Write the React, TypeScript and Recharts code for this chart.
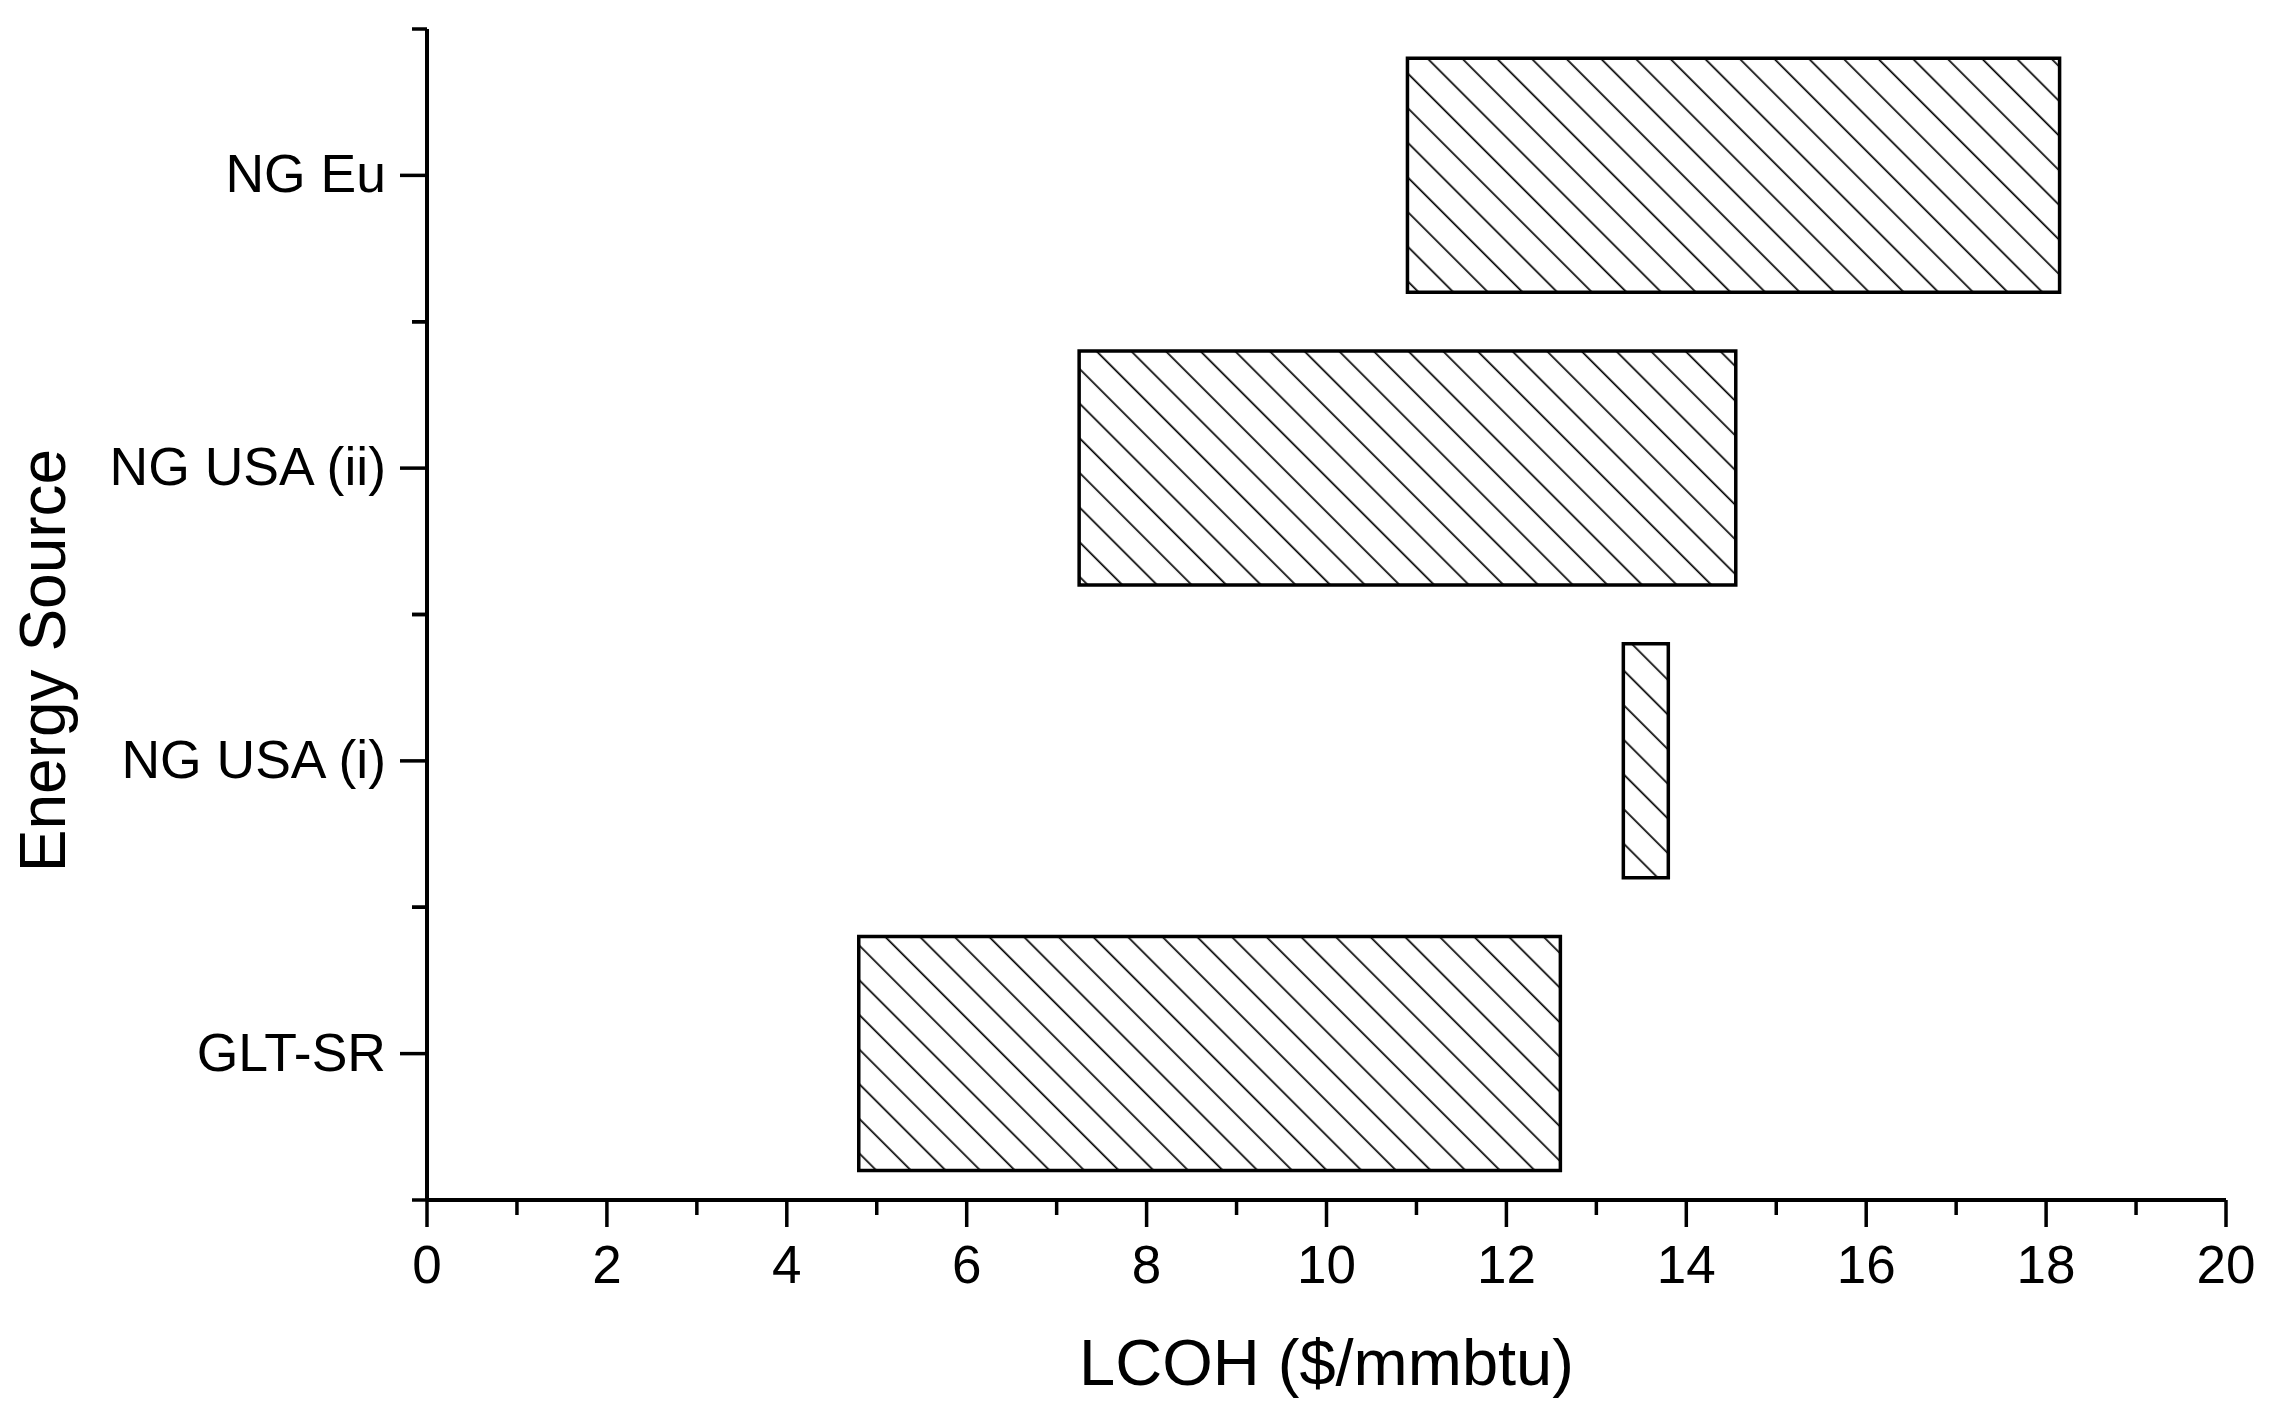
import React from 'react';
import { BarChart, Bar, XAxis, YAxis } from 'recharts';

// Data (top to bottom as drawn)
const categories = ['NG Eu', 'NG USA (ii)', 'NG USA (i)', 'GLT-SR'];
const lowValues = [10.9, 7.25, 13.3, 4.8];
const highValues = [18.15, 14.55, 13.8, 12.6];
const xTicks = [0, 1, 2, 3, 4, 5, 6, 7, 8, 9, 10, 11, 12, 13, 14, 15, 16, 17, 18, 19, 20];

const data = categories.map((c, i) => ({ source: c, range: [lowValues[i], highValues[i]] }));

const FONT = 'Liberation Sans, Arial, Helvetica, sans-serif';

const XTick = (props: any) => {
  const { x, y, payload } = props;
  const v = payload.value;
  const major = v % 2 === 0;
  return (
    <g>
      <line x1={x} y1={y} x2={x} y2={y + (major ? 27 : 15)} stroke="#000" strokeWidth={3.5} />
      {major && (
        <text x={x} y={y + 83} textAnchor="middle" fontSize={53} fontFamily={FONT} fill="#000">
          {v}
        </text>
      )}
    </g>
  );
};

const YTick = (props: any) => {
  const { x, y, payload } = props;
  const off = payload && payload.offset ? payload.offset : 146.4;
  return (
    <g>
      <line x1={x - 27} y1={y} x2={x} y2={y} stroke="#000" strokeWidth={3.5} />
      <line x1={x - 15} y1={y - off} x2={x} y2={y - off} stroke="#000" strokeWidth={3.5} />
      <line x1={x - 15} y1={y + off} x2={x} y2={y + off} stroke="#000" strokeWidth={3.5} />
      <text x={x - 41} y={y + 17} textAnchor="end" fontSize={53.5} fontFamily={FONT} fill="#000">
        {payload.value}
      </text>
    </g>
  );
};

export default function App() {
  return (
    <div style={{ position: 'absolute', left: 0, top: 0, width: 2271, height: 1416, background: '#fff' }}>
      <svg width={0} height={0} style={{ position: 'absolute' }}>
        <defs>
          <pattern id="hatch" patternUnits="userSpaceOnUse" width={24.5} height={24.5} patternTransform="rotate(45)">
            <rect x={0} y={0} width={24.5} height={24.5} fill="#fff" />
            <line x1={0} y1={12} x2={24.5} y2={12} stroke="#000" strokeWidth={1.7} />
          </pattern>
        </defs>
      </svg>
      <BarChart
        width={2271}
        height={1416}
        data={data}
        layout="vertical"
        margin={{ top: 29, right: 45, bottom: 0, left: 0 }}
        barCategoryGap="10%"
      >
        <XAxis
          type="number"
          domain={[0, 20]}
          ticks={xTicks}
          interval={0}
          height={216}
          tickSize={0}
          tickMargin={0}
          tickLine={false}
          axisLine={{ stroke: '#000', strokeWidth: 4 }}
          tick={<XTick />}
          allowDataOverflow
          label={{
            content: (p: any) => {
              const vb = p.viewBox;
              return (
                <text x={vb.x + vb.width / 2} y={vb.y + 185} textAnchor="middle" fontSize={65} fontFamily={FONT} fill="#000">
                  LCOH ($/mmbtu)
                </text>
              );
            },
          }}
        />
        <YAxis
          type="category"
          dataKey="source"
          width={427}
          interval={0}
          tickSize={0}
          tickMargin={0}
          tickLine={false}
          axisLine={{ stroke: '#000', strokeWidth: 4 }}
          tick={<YTick />}
          label={{
            content: (p: any) => {
              const vb = p.viewBox;
              const cx = 65;
              const cy = vb.y + vb.height / 2 + 46;
              return (
                <text x={cx} y={cy} transform={`rotate(-90, ${cx}, ${cy})`} textAnchor="middle" fontSize={64} fontFamily={FONT} fill="#000">
                  Energy Source
                </text>
              );
            },
          }}
        />
        <Bar dataKey="range" fill="url(#hatch)" stroke="#000" strokeWidth={3.5} isAnimationActive={false} />
      </BarChart>
    </div>
  );
}
